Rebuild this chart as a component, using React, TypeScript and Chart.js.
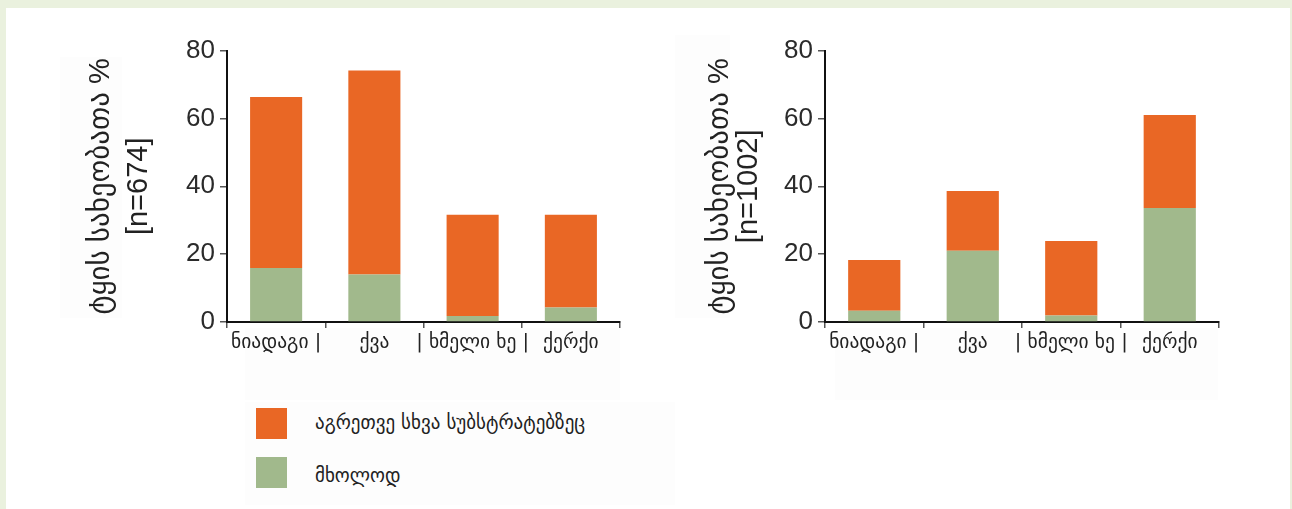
import React, { useEffect, useRef } from "react";
import { Chart, registerables } from "chart.js";

Chart.register(...registerables);

const categories = ["ნიადაგი |", "ქვა", "| ხმელი ხე |", "ქერქი"];
const seriesOnlyLabel = "მხოლოდ";
const seriesAlsoLabel = "აგრეთვე სხვა სუბსტრატებზეც";

const leftOnly = [15.9, 14.0, 1.8, 4.3];
const leftAlso = [50.4, 60.1, 29.8, 27.3];
const rightOnly = [3.3, 21.0, 1.9, 33.6];
const rightAlso = [15.0, 17.6, 22.0, 27.4];

const leftTitle = ["ტყის სახეობათა %", "[n=674]"];
const rightTitle = ["ტყის სახეობათა %", "[n=1002]"];
const yTicks = [0, 20, 40, 60, 80];

const ORANGE = "rgb(233,103,37)";
const GREEN = "rgb(161,185,140)";
const NUM_FONT = "'Liberation Sans', 'DejaVu Sans', sans-serif";
const GEO_FONT = "'DejaVu Sans', sans-serif";

type PanelProps = {
  left: number;
  top: number;
  width: number;
  height: number;
  only: number[];
  also: number[];
  title: string[];
  yAxisWidth: number;
  rightPad: number;
  titlePad: number;
  titleLine: number;
};

function BarPanel(p: PanelProps) {
  const ref = useRef<HTMLCanvasElement | null>(null);
  useEffect(() => {
    if (!ref.current) return;
    const chart = new Chart(ref.current, {
      type: "bar",
      data: {
        labels: categories,
        datasets: [
          {
            label: seriesOnlyLabel,
            data: p.only,
            backgroundColor: GREEN,
            barPercentage: 0.53,
            categoryPercentage: 1,
          },
          {
            label: seriesAlsoLabel,
            data: p.also,
            backgroundColor: ORANGE,
            barPercentage: 0.53,
            categoryPercentage: 1,
          },
        ],
      },
      options: {
        animation: false,
        responsive: false,
        maintainAspectRatio: false,
        layout: { padding: { top: 20, right: p.rightPad, bottom: 0, left: 0 } },
        plugins: { legend: { display: false }, tooltip: { enabled: false } },
        scales: {
          x: {
            stacked: true,
            afterFit: (s: any) => {
              s.height = 58;
            },
            border: { display: true, color: "#111", width: 2 },
            grid: {
              display: true,
              offset: true,
              drawOnChartArea: false,
              drawTicks: true,
              tickLength: 6,
              color: "#555",
              lineWidth: 1.5,
            },
            ticks: {
              padding: 3,
              color: "#222",
              font: { family: GEO_FONT, size: 19.5 },
              maxRotation: 0,
              autoSkip: false,
            },
          },
          y: {
            stacked: true,
            min: 0,
            max: 80,
            afterFit: (s: any) => {
              s.width = p.yAxisWidth;
            },
            afterBuildTicks: (s: any) => {
              s.ticks = yTicks.map((v) => ({ value: v }));
            },
            border: { display: true, color: "#111", width: 2 },
            grid: {
              display: true,
              drawOnChartArea: false,
              drawTicks: true,
              tickLength: 7,
              color: "#555",
              lineWidth: 1.5,
            },
            ticks: {
              padding: 5,
              color: "#2b2b2b",
              font: { family: NUM_FONT, size: 26 },
            },
            title: {
              display: true,
              text: p.title,
              color: "#222",
              font: { family: NUM_FONT, size: 29, lineHeight: p.titleLine },
              padding: { top: p.titlePad, bottom: 0 },
            },
          },
        },
      },
    });
    return () => chart.destroy();
  }, []);
  return (
    <canvas
      ref={ref}
      width={p.width}
      height={p.height}
      style={{
        position: "absolute",
        left: p.left,
        top: p.top,
        width: p.width,
        height: p.height,
      }}
    />
  );
}

const box = (l: number, t: number, w: number, h: number): React.CSSProperties => ({
  position: "absolute",
  left: l,
  top: t,
  width: w,
  height: h,
  background: "#fdfdfd",
});

const legendText: React.CSSProperties = {
  position: "absolute",
  left: 315,
  fontFamily: GEO_FONT,
  fontSize: 19,
  lineHeight: "24px",
  color: "#222",
  whiteSpace: "nowrap",
};

export default function App() {
  return (
    <div
      style={{
        position: "absolute",
        left: 0,
        top: 0,
        width: 1292,
        height: 509,
        background: "#eaf1de",
        overflow: "hidden",
      }}
    >
      <div
        style={{
          position: "absolute",
          left: 6,
          top: 8,
          width: 1284,
          height: 501,
          background: "#ffffff",
        }}
      />
      <div style={box(60, 57, 62, 261)} />
      <div style={box(675, 35, 55, 283)} />
      <div style={box(245, 328, 375, 72)} />
      <div style={box(835, 328, 383, 72)} />
      <div style={box(245, 402, 430, 103)} />
      <BarPanel
        left={60}
        top={30}
        width={580}
        height={350}
        only={leftOnly}
        also={leftAlso}
        title={leftTitle}
        yAxisWidth={167}
        rightPad={20}
        titlePad={21.5}
        titleLine={38 / 29}
      />
      <BarPanel
        left={700}
        top={30}
        width={540}
        height={350}
        only={rightOnly}
        also={rightAlso}
        title={rightTitle}
        yAxisWidth={125}
        rightPad={21}
        titlePad={5.75}
        titleLine={28.5 / 29}
      />
      <div
        style={{
          position: "absolute",
          left: 256,
          top: 408,
          width: 31,
          height: 31,
          background: ORANGE,
        }}
      />
      <div
        style={{
          position: "absolute",
          left: 256,
          top: 457,
          width: 31,
          height: 31,
          background: GREEN,
        }}
      />
      <div style={{ ...legendText, top: 410 }}>{seriesAlsoLabel}</div>
      <div style={{ ...legendText, top: 463 }}>{seriesOnlyLabel}</div>
    </div>
  );
}
